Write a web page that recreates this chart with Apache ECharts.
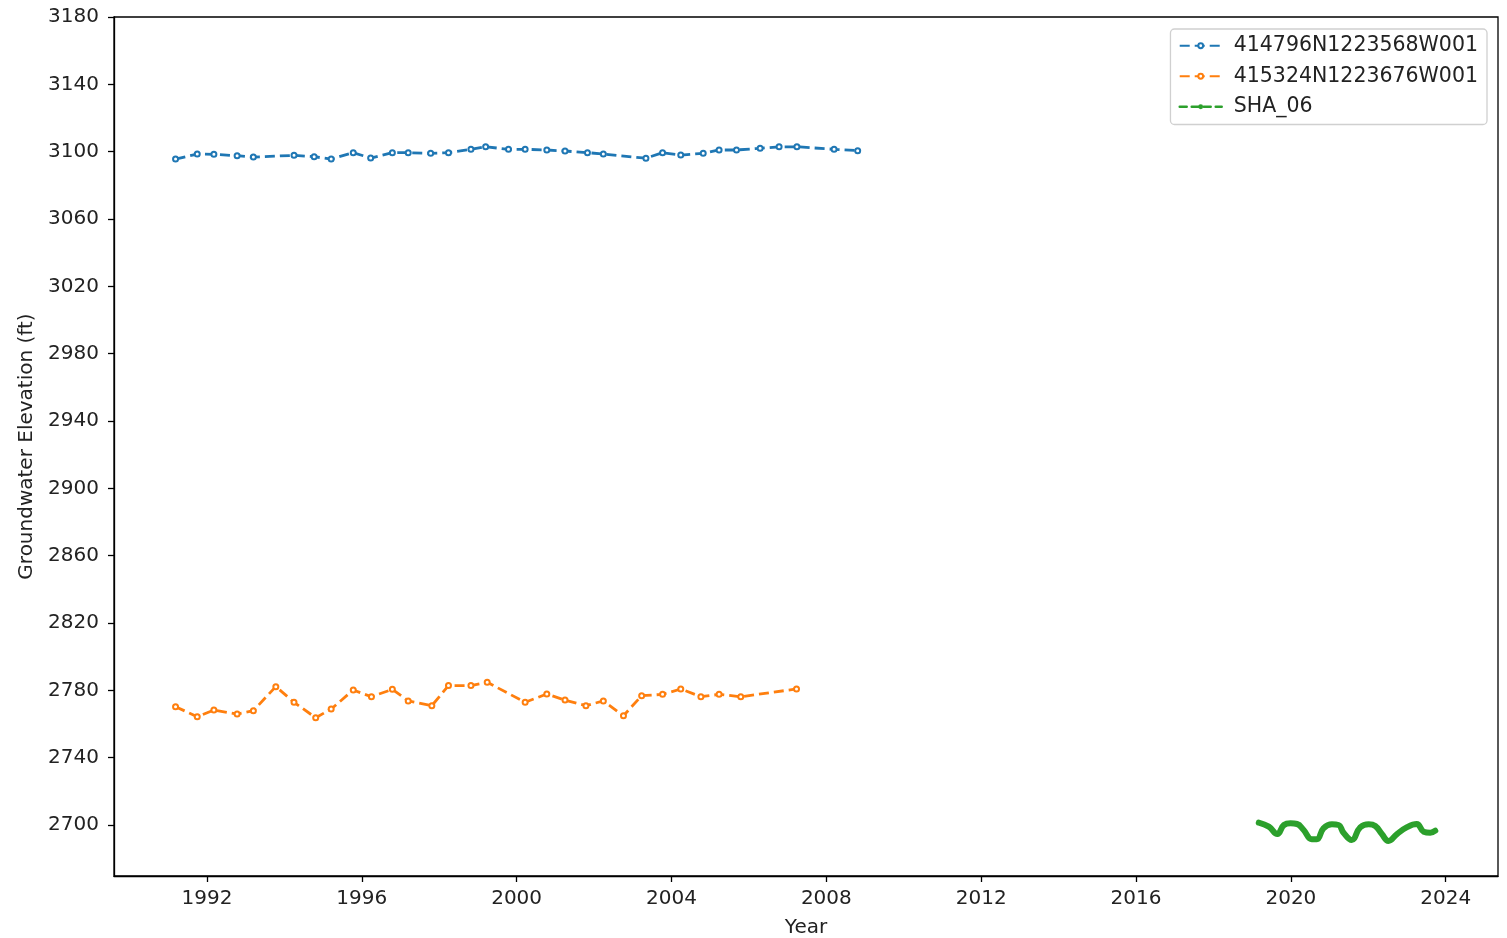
<!DOCTYPE html>
<html>
<head>
<meta charset="utf-8">
<script src="https://cdn.jsdelivr.net/npm/echarts@6/dist/echarts.min.js"></script>
<style>html,body{margin:0;padding:0;background:#fff}#c{width:1507px;height:938px}</style>
</head>
<body>
<div id="c"></div>
<script>
const seriesNames = ['414796N1223568W001', '415324N1223676W001', 'SHA_06'];
const xTicks = [1992, 1996, 2000, 2004, 2008, 2012, 2016, 2020, 2024];
const yTicks = [2700, 2740, 2780, 2820, 2860, 2900, 2940, 2980, 3020, 3060, 3100, 3140, 3180];

const blueYears = [1991.19, 1991.75, 1992.18, 1992.78, 1993.2, 1994.25, 1994.77, 1995.21, 1995.78, 1996.23, 1996.79, 1997.2, 1997.78, 1998.24, 1998.82, 1999.2, 1999.79, 2000.22, 2000.78, 2001.25, 2001.83, 2002.24, 2003.34, 2003.77, 2004.24, 2004.82, 2005.23, 2005.68, 2006.29, 2006.78, 2007.24, 2008.2, 2008.81];
const blueValues = [3095.6, 3098.6, 3098.4, 3097.6, 3096.8, 3097.8, 3097.0, 3095.6, 3099.4, 3096.2, 3099.4, 3099.4, 3099.0, 3099.4, 3101.4, 3102.9, 3101.4, 3101.4, 3101.0, 3100.4, 3099.4, 3098.6, 3096.1, 3099.4, 3098.0, 3099.0, 3101.0, 3101.0, 3102.0, 3102.9, 3102.9, 3101.4, 3100.6];

const orangeYears = [1991.19, 1991.75, 1992.18, 1992.78, 1993.2, 1993.78, 1994.25, 1994.81, 1995.21, 1995.78, 1996.25, 1996.79, 1997.2, 1997.81, 1998.24, 1998.82, 1999.24, 2000.22, 2000.78, 2001.25, 2001.79, 2002.24, 2002.76, 2003.23, 2003.77, 2004.24, 2004.76, 2005.23, 2005.79, 2007.23];
const orangeValues = [2770.3, 2764.3, 2768.3, 2765.9, 2767.9, 2782.2, 2772.9, 2763.7, 2768.9, 2780.2, 2776.2, 2780.6, 2773.7, 2770.9, 2782.8, 2782.8, 2784.8, 2772.9, 2777.8, 2774.2, 2770.9, 2773.7, 2764.9, 2776.8, 2777.6, 2780.8, 2776.2, 2777.6, 2776.2, 2780.8];

const greenYears = [2019.17, 2019.43, 2019.65, 2019.82, 2019.99, 2020.16, 2020.33, 2020.54, 2020.67, 2020.84, 2021.06, 2021.23, 2021.36, 2021.57, 2021.79, 2022.01, 2022.18, 2022.35, 2022.52, 2022.74, 2022.99, 2023.25, 2023.43, 2023.60, 2023.73];
const greenValues = [2701.4, 2699.0, 2694.6, 2700.0, 2701.0, 2700.6, 2697.0, 2691.5, 2691.5, 2698.0, 2700.4, 2700.0, 2695.4, 2691.1, 2698.6, 2700.4, 2699.4, 2694.6, 2690.5, 2694.6, 2698.6, 2700.6, 2696.0, 2695.4, 2696.6];

const colors = ['#1f77b4', '#ff7f0e', '#2ca02c'];
const zip = (a, b) => a.map((v, i) => [v, b[i]]);
const FONT = 'DejaVu Sans';
const FS = 20;

const chart = echarts.init(document.getElementById('c'), null, {renderer: 'canvas'});
chart.setOption({
  animation: false,
  backgroundColor: '#fff',
  textStyle: {fontFamily: FONT},
  grid: {left: 114, top: 17, right: 9, bottom: 62, show: true, borderColor: '#000', borderWidth: 1.3, containLabel: false, outerBoundsMode: 'none'},
  legend: {
    orient: 'vertical', right: 20, top: 29,
    backgroundColor: '#fff', borderColor: '#d0d0d0', borderWidth: 1.3, borderRadius: 4,
    padding: [5, 9, 6, 8], itemGap: 7, itemWidth: 42, itemHeight: 6,
    textStyle: {fontFamily: FONT, fontSize: 20.5, lineHeight: 23.5, color: '#222', padding: [0, 0, 0, 7]},
    data: [
      {name: seriesNames[0], itemStyle: {color: colors[0], borderWidth: 0}},
      {name: seriesNames[1], itemStyle: {color: colors[1], borderWidth: 0}},
      {name: seriesNames[2], lineStyle: {width: 2.5, type: [7, 5]}}
    ]
  },
  xAxis: {
    type: 'value', min: 1989.6, max: 2025.35,
    name: 'Year', nameLocation: 'middle', nameGap: 42,
    nameTextStyle: {fontFamily: FONT, fontSize: FS, color: '#222'},
    axisLine: {show: true, lineStyle: {color: '#000', width: 1.3}},
    axisTick: {show: true, length: 6, lineStyle: {color: '#000', width: 1.3}, customValues: xTicks},
    axisLabel: {fontFamily: FONT, fontSize: FS, color: '#222', margin: 13, customValues: xTicks, formatter: v => String(v)},
    splitLine: {show: false}
  },
  yAxis: {
    type: 'value', min: 2669.7, max: 3180,
    name: 'Groundwater Elevation (ft)', nameLocation: 'middle', nameGap: 77, nameRotate: 90,
    nameTextStyle: {fontFamily: FONT, fontSize: FS, color: '#222'},
    axisLine: {show: true, lineStyle: {color: '#000', width: 1.3}},
    axisTick: {show: true, length: 6, lineStyle: {color: '#000', width: 1.3}, customValues: yTicks},
    axisLabel: {fontFamily: FONT, fontSize: FS, color: '#222', margin: 15, customValues: yTicks, formatter: v => String(v)},
    splitLine: {show: false}
  },
  series: [
    {
      name: seriesNames[0], type: 'line', data: zip(blueYears, blueValues),
      symbol: 'emptyCircle', symbolSize: 5, showSymbol: true,
      lineStyle: {color: colors[0], width: 2.8, type: [10, 5]},
      itemStyle: {color: colors[0], borderWidth: 1.6}
    },
    {
      name: seriesNames[1], type: 'line', data: zip(orangeYears, orangeValues),
      symbol: 'emptyCircle', symbolSize: 5, showSymbol: true,
      lineStyle: {color: colors[1], width: 2.8, type: [10, 5]},
      itemStyle: {color: colors[1], borderWidth: 1.6}
    },
    {
      name: seriesNames[2], type: 'line', data: zip(greenYears, greenValues),
      symbol: 'circle', symbolSize: 4, showSymbol: true, smooth: 0.45,
      lineStyle: {color: colors[2], width: 6, cap: 'round', join: 'round'},
      itemStyle: {color: colors[2]}
    }
  ]
});
</script>
</body>
</html>
